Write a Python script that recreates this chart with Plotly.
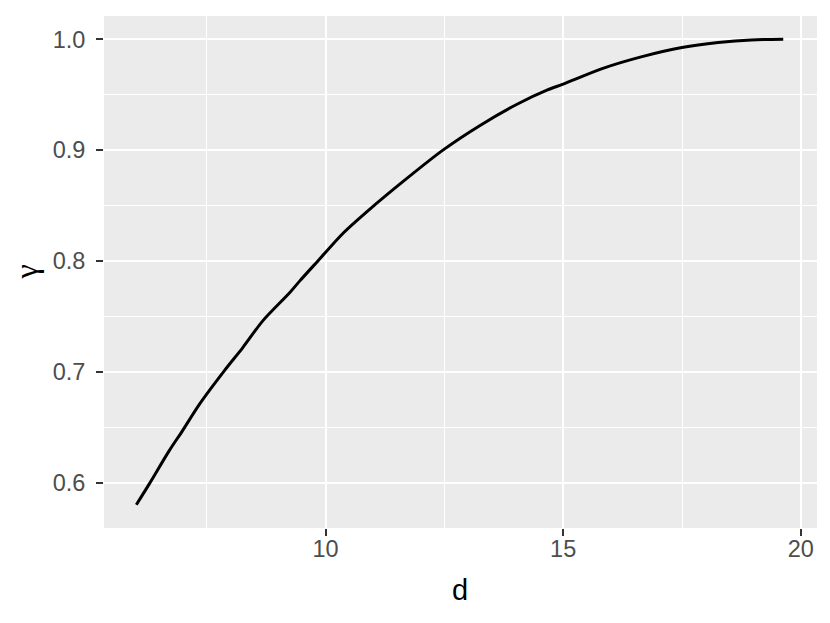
import plotly.graph_objects as go

d_vals = [6.02, 6.29, 6.71, 6.99, 7.35, 7.87, 8.26, 8.68, 9.25, 9.46, 9.84, 10.37,
          10.94, 11.64, 12.47, 13.26, 14.03, 14.67, 15.0, 15.82, 16.66, 17.5,
          18.26, 18.96, 19.63]
gamma_vals = [0.580, 0.5986, 0.6286, 0.6467, 0.6708, 0.7008, 0.7218, 0.7459, 0.7715,
              0.782, 0.800, 0.825, 0.847, 0.872, 0.900, 0.9225, 0.9414, 0.9543,
              0.9595, 0.9735, 0.9843, 0.9925, 0.997, 0.9994, 1.0]

x_title = "d"
y_title = "γ"

fig = go.Figure()
fig.add_trace(go.Scatter(x=d_vals, y=gamma_vals, mode="lines",
                         line=dict(color="black", width=3, shape="spline", smoothing=0.8),
                         showlegend=False))

sans = "Liberation Sans, Arial, Helvetica, sans-serif"
serif = "Liberation Serif, Times New Roman, serif"

axis_common = dict(
    showgrid=True, gridcolor="white", gridwidth=2.2,
    ticks="outside", ticklen=7, tickwidth=2, tickcolor="#333333",
    tickfont=dict(size=23.5, color="#4D4D4D", family=sans),
    zeroline=False, showline=False, automargin=False,
)

# page body has an 8px margin, so the figure is 8px smaller and shifted
fig.update_layout(
    width=822, height=615,
    margin=dict(l=96, r=13, t=8, b=95),
    paper_bgcolor="white",
    plot_bgcolor="#EBEBEB",
    font=dict(family=sans),
    xaxis=dict(
        range=[5.34, 20.34], tickmode="linear", tick0=0, dtick=5,
        minor=dict(dtick=2.5, tick0=0, showgrid=True, gridcolor="white", gridwidth=1.1, ticks=""),
        ticklabelstandoff=-7,
        **axis_common,
    ),
    yaxis=dict(
        range=[0.559, 1.021], tickmode="linear", tick0=0, dtick=0.1, tickformat=".1f",
        minor=dict(dtick=0.05, tick0=0, showgrid=True, gridcolor="white", gridwidth=1.1, ticks=""),
        ticklabelstandoff=6,
        **axis_common,
    ),
    annotations=[
        dict(text=x_title, xref="paper", yref="paper", x=0.499, y=-0.121,
             xanchor="center", yanchor="middle", showarrow=False,
             font=dict(size=29, color="black", family=sans)),
        dict(text=y_title, xref="paper", yref="paper", x=-0.1094, y=0.501,
             xanchor="center", yanchor="middle", showarrow=False, textangle=-90,
             font=dict(size=32, color="black", family=serif)),
    ],
)

fig.write_html("out.html")
